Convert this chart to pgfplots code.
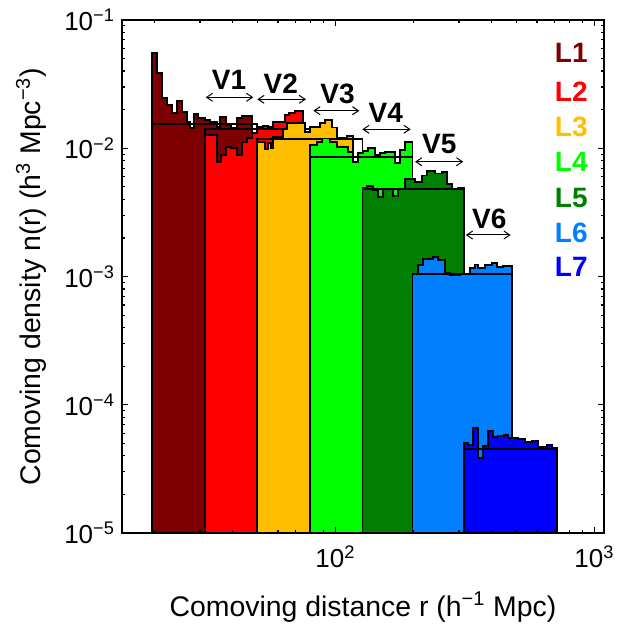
\documentclass[border=0pt]{standalone}
\usepackage{fontspec}
\setmainfont{Liberation Sans}
\usepackage{pgfplots}
\pgfplotsset{compat=1.18}
\usetikzlibrary{arrows.meta}
\definecolor{cA}{RGB}{127,0,0}
\definecolor{cB}{RGB}{255,0,0}
\definecolor{cC}{RGB}{255,191,0}
\definecolor{cD}{RGB}{0,255,0}
\definecolor{cE}{RGB}{0,127,0}
\definecolor{cF}{RGB}{0,128,255}
\definecolor{cG}{RGB}{0,0,255}
\tikzset{
  vlab/.style={font=\bfseries\fontsize{14}{16}\selectfont},
  llab/.style={anchor=east, inner sep=0pt, font=\bfseries\fontsize{14}{16}\selectfont},
  varr/.style={<->, >={Straight Barb[length=3pt,width=4pt]}, line width=0.5pt},
}
\pgfplotsset{
  hist/.style={const plot, draw=black, line width=0.9pt, mark=none},
  mbox/.style={draw=black, line width=0.9pt, mark=none},
}
\begin{document}
\begin{tikzpicture}
\useasboundingbox (-61pt,-48.5pt) rectangle (256.5pt,266.5pt);
\begin{axis}[
  at={(0,0)}, anchor=south west,
  scale only axis, width=241pt, height=256.5pt,
  xmode=log, ymode=log,
  xmin=15, xmax=1089, ymin=1e-5, ymax=1e-1,
  axis on top,
  axis line style={line width=1pt},
  tick style={line width=0.6pt, black},
  major tick length=3pt, minor tick length=1.7pt,
  tick align=inside,
  xtick={100,1000},
  xticklabels={10\textsuperscript{2},10\textsuperscript{3}},
  minor xtick={20,30,40,50,60,70,80,90,200,300,400,500,600,700,800,900},
  ytick={1e-5,1e-4,1e-3,1e-2,1e-1},
  yticklabels={10\textsuperscript{−5},10\textsuperscript{−4},10\textsuperscript{−3},10\textsuperscript{−2},10\textsuperscript{−1}},
  minor ytick={2e-5,3e-5,4e-5,5e-5,6e-5,7e-5,8e-5,9e-5,2e-4,3e-4,4e-4,5e-4,6e-4,7e-4,8e-4,9e-4,2e-3,3e-3,4e-3,5e-3,6e-3,7e-3,8e-3,9e-3,2e-2,3e-2,4e-2,5e-2,6e-2,7e-2,8e-2,9e-2},
  tick label style={font=\fontsize{13}{15}\selectfont},
  xticklabel style={yshift=-3pt},
  label style={font=\fontsize{14.2}{16}\selectfont},
  xlabel={Comoving distance r (h\textsuperscript{−1} Mpc)},
  ylabel={Comoving density n(r) (h\textsuperscript{3} Mpc\textsuperscript{−3})},
  xlabel style={at={(axis description cs:0.5,-0.1442)}, anchor=center},
  ylabel style={at={(axis description cs:-0.1888,0.5)}, anchor=center},
]
% L1
\addplot[hist, fill=cA] coordinates {(19.53,1e-5) (19.53,0.05559) (20.53,0.03841) (21.47,0.02452) (22.45,0.02174) (23.47,0.01883) (24.53,0.02349) (25.65,0.01928) (26.82,0.01611) (27.46,0.01438) (28.45,0.01850) (29.57,0.01721) (31.37,0.01661) (32.80,0.01611) (34.80,0.01464) (35.85,0.01762) (37.81,0.01518) (39.53,0.01438) (41.57,0.01721) (43.46,0.01784) (47.79,0.01784) (47.79,1e-5)} -- cycle;
\addplot[mbox] coordinates {(19.53,1e-5) (19.53,0.01546) (49.82,0.01546) (49.82,1e-5)};
% L2
\addplot[hist, fill=cB] coordinates {(31.37,1e-5) (31.37,0.01268) (34.80,0.007855) (36.17,0.00886) (37.81,0.01028) (39.53,0.01004) (41.57,0.00886) (43.46,0.01125) (45.44,0.01202) (47.79,0.01315) (49.94,0.01464) (52.68,0.01491) (55.07,0.01464) (57.57,0.01611) (63.90,0.01817) (66.39,0.01894) (69.84,0.01963) (75.17,0.01268) (79.78,0.01268) (79.78,1e-5)} -- cycle;
\addplot[mbox] coordinates {(31.37,1e-5) (31.37,0.01413) (79.78,0.01413) (79.78,1e-5)};
% L3
\addplot[hist, fill=cC] coordinates {(49.82,1e-5) (49.82,0.01119) (53.48,0.009813) (55.07,0.01093) (56.26,0.009991) (57.57,0.01230) (62.94,0.01405) (64.86,0.01565) (67.81,0.01582) (76.32,0.01346) (79.78,0.01472) (87.20,0.01565) (91.16,0.01661) (96.77,0.01451) (101.17,0.01202) (110.58,0.01246) (117.26,0.007855) (122.59,0.008098) (127.24,0.008098) (127.24,1e-5)} -- cycle;
\addplot[mbox] coordinates {(49.82,1e-5) (49.82,0.01175) (127.24,0.01175) (127.24,1e-5)};
% L4
\addplot[hist, fill=cD] coordinates {(79.78,1e-5) (79.78,0.01060) (84.69,0.01125) (88.53,0.01191) (95.32,0.01119) (101.17,0.01028) (112.16,0.009400) (117.26,0.007855) (122.59,0.009134) (128.15,0.009570) (133.97,0.009991) (142.2,0.008860) (148.67,0.009134) (155.43,0.009400) (169.92,0.007715) (177.65,0.009691) (185.72,0.01125) (198.5,0.01125) (198.5,1e-5)} -- cycle;
\addplot[mbox] coordinates {(79.78,1e-5) (79.78,0.008546) (198.5,0.008546) (198.5,1e-5)};
% L5
\addplot[hist, fill=cE] coordinates {(127.24,1e-5) (127.24,0.004898) (132.08,0.005077) (140.09,0.004725) (146.45,0.004167) (153.10,0.004785) (167.37,0.004243) (174.98,0.004785) (185.72,0.005726) (202.99,0.005456) (215.44,0.006131) (225.24,0.006646) (242.36,0.006354) (257.35,0.006528) (269.04,0.005263) (281.27,0.004785) (298.23,0.004942) (313.7,0.004942) (313.7,1e-5)} -- cycle;
\addplot[mbox] coordinates {(127.24,1e-5) (127.24,0.004811) (313.7,0.004811) (313.7,1e-5)};
% L6
\addplot[hist, fill=cF] coordinates {(198.5,1e-5) (198.5,0.0010366) (208.96,0.001229) (218.53,0.0013615) (238.74,0.001427) (249.64,0.001345) (265.0,0.001059) (277.06,0.001018) (302.8,0.001046) (331.0,0.001159) (345.95,0.001240) (356.25,0.001159) (378.08,0.001229) (401.32,0.001281) (419.56,0.001192) (444.9,0.001207) (480.7,0.001207) (480.7,1e-5)} -- cycle;
\addplot[mbox] coordinates {(198.5,1e-5) (198.5,0.001046) (480.7,0.001046) (480.7,1e-5)};
% L7
\addplot[hist, fill=cG] coordinates {(313.7,1e-5) (313.7,5.058e-5) (325.95,4.854e-5) (340.76,6.552e-5) (356.25,3.823e-5) (372.45,4.768e-5) (389.38,6.277e-5) (407.08,5.635e-5) (425.58,5.706e-5) (448.9,5.809e-5) (465.15,5.475e-5) (486.29,5.475e-5) (508.4,5.378e-5) (539.6,5.150e-5) (575.79,5.244e-5) (604.1,4.708e-5) (654.42,4.854e-5) (684.16,4.575e-5) (717.18,4.575e-5) (717.18,1e-5)} -- cycle;
\addplot[mbox] coordinates {(313.7,1e-5) (313.7,4.493e-5) (717.18,4.493e-5) (717.18,1e-5)};
% arrows and labels
\draw[varr] (axis cs:31.57,0.02496) -- (axis cs:48.2,0.02496);
\draw[varr] (axis cs:49.94,0.02408) -- (axis cs:77.0,0.02408);
\draw[varr] (axis cs:82.15,0.01963) -- (axis cs:123.7,0.01963);
\draw[varr] (axis cs:127.0,0.01405) -- (axis cs:195.3,0.01405);
\draw[varr] (axis cs:203.0,0.007855) -- (axis cs:311.7,0.007855);
\draw[varr] (axis cs:318.6,0.002107) -- (axis cs:475.1,0.002107);
\node[vlab] at (axis cs:38.84,0.03423) {V1};
\node[vlab] at (axis cs:61.55,0.03210) {V2};
\node[vlab] at (axis cs:101.9,0.02639) {V3};
\node[vlab] at (axis cs:156.5,0.01873) {V4};
\node[vlab] at (axis cs:251.6,0.010755) {V5};
\node[vlab] at (axis cs:392.5,0.002798) {V6};
\node[llab, text=cA] at (axis description cs:0.9668,0.9351) {L1};
\node[llab, text=cB] at (axis description cs:0.9668,0.8602) {L2};
\node[llab, text=cC] at (axis description cs:0.9668,0.7920) {L3};
\node[llab, text=cD] at (axis description cs:0.9668,0.7238) {L4};
\node[llab, text=cE] at (axis description cs:0.9668,0.6524) {L5};
\node[llab, text=cF] at (axis description cs:0.9668,0.5842) {L6};
\node[llab, text=cG] at (axis description cs:0.9668,0.5191) {L7};
\end{axis}
\end{tikzpicture}
\end{document}
